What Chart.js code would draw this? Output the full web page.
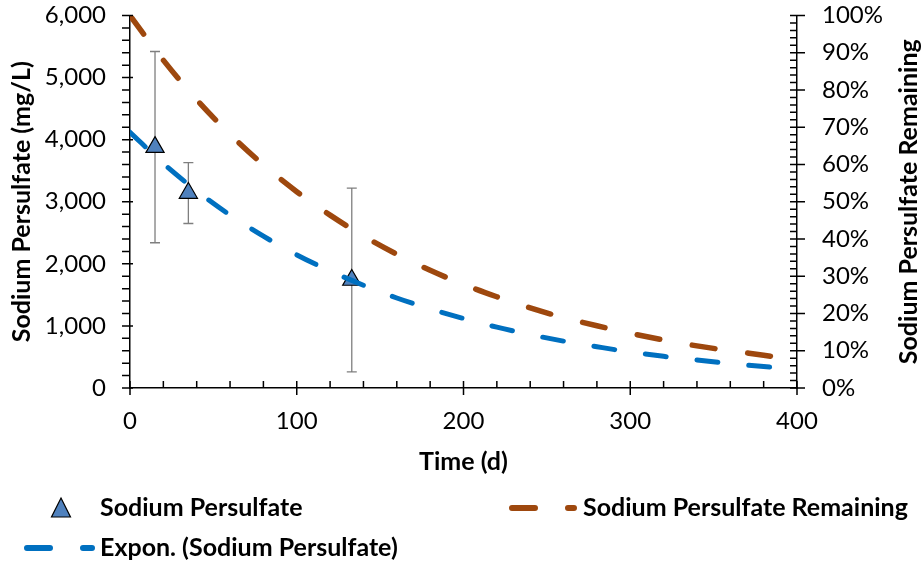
<!DOCTYPE html>
<html>
<head>
<meta charset="utf-8">
<title>Sodium Persulfate</title>
<script src="https://cdn.jsdelivr.net/npm/chart.js@4.4.1/dist/chart.umd.min.js"></script>
<style>
  html, body { margin: 0; padding: 0; background: #fff; }
  #wrap { width: 923px; height: 563px; }
</style>
</head>
<body>
<div id="wrap"><canvas id="chart" width="923" height="563"></canvas></div>
<script>
// measured samples (days, mg/L) and their error bars
const sampleDays = [15, 35, 133];
const sampleConc = [3880, 3140, 1740];
const sampleErr = [1540, 490, 1480];

// exponential trendline
const trendDays = [0, 20, 40, 60, 80, 100, 120, 140, 160, 180, 200, 220, 240, 260, 280, 300, 320, 340, 360, 380, 400];
const trendConc = [4120, 3615, 3175, 2785, 2445, 2145, 1885, 1655, 1450, 1275, 1120, 980, 860, 755, 665, 580, 510, 450, 395, 345, 305];

// percent remaining (right axis)
const remainDays = [0, 20, 40, 60, 80, 100, 120, 140, 160, 180, 200, 220, 240, 260, 280, 300, 320, 340, 360, 380, 388];
const remainPct = [100, 88, 77.4, 68.1, 59.9, 52.7, 46.4, 40.8, 35.9, 31.6, 27.8, 24.5, 21.5, 18.9, 16.7, 14.7, 12.9, 11.3, 10.0, 8.8, 8.3];

const tickFont = { family: 'Lato', size: 24 };
const titleFont = { family: 'Lato', size: 25, weight: 'bold' };

// no extra room for the tick labels that hang over the plot edges
function noOverhang(s) {
    s.paddingTop = 0; s.paddingBottom = 0;
    s.paddingLeft = 0; s.paddingRight = 0;
}

// error bars for the sample points
const errorBars = {
    id: 'errorBars',
    beforeDatasetsDraw(chart) {
        const { ctx, scales: { x, y } } = chart;
        ctx.save();
        ctx.strokeStyle = '#7f7f7f';
        ctx.lineWidth = 1.3;
        ctx.beginPath();
        for (let i = 0; i < sampleDays.length; i++) {
            const px = x.getPixelForValue(sampleDays[i]);
            const top = y.getPixelForValue(sampleConc[i] + sampleErr[i]);
            const bot = y.getPixelForValue(sampleConc[i] - sampleErr[i]);
            ctx.moveTo(px, top); ctx.lineTo(px, bot);
            ctx.moveTo(px - 5, top); ctx.lineTo(px + 5, top);
            ctx.moveTo(px - 5, bot); ctx.lineTo(px + 5, bot);
        }
        ctx.stroke();
        ctx.restore();
    }
};

// major + minor tick marks, right title, legend
const decorations = {
    id: 'decorations',
    afterDraw(chart) {
        const { ctx, chartArea: ca, scales: { x, y, y1 } } = chart;
        ctx.save();
        ctx.strokeStyle = '#000';
        ctx.lineWidth = 1.5;
        ctx.beginPath();
        for (let v = 0; v <= 6000; v += 200) {
            const p = y.getPixelForValue(v);
            const major = v % 1000 === 0;
            ctx.moveTo(ca.left - 8, p); ctx.lineTo(ca.left + (major ? 3 : 0), p);
        }
        for (let v = 0; v <= 100; v += 2) {
            const p = y1.getPixelForValue(v);
            const major = v % 10 === 0;
            ctx.moveTo(ca.right - 7, p); ctx.lineTo(ca.right + (major ? 8 : 0), p);
        }
        for (let v = 0; v <= 400; v += 20) {
            const p = x.getPixelForValue(v);
            const major = v % 100 === 0;
            ctx.moveTo(p, ca.bottom - 7); ctx.lineTo(p, ca.bottom + (major ? 7 : 0));
        }
        ctx.stroke();

        // right axis title, reads bottom to top
        ctx.fillStyle = '#000';
        ctx.font = 'bold 25px Lato';
        ctx.textAlign = 'center';
        ctx.textBaseline = 'middle';
        ctx.save();
        ctx.translate(909, (ca.top + ca.bottom) / 2);
        ctx.rotate(-Math.PI / 2);
        ctx.fillText('Sodium Persulfate Remaining', 0, 0);
        ctx.restore();

        // legend
        ctx.textAlign = 'left';
        ctx.beginPath();
        ctx.moveTo(61, 498); ctx.lineTo(70.5, 517); ctx.lineTo(51.5, 517); ctx.closePath();
        ctx.fillStyle = '#4f81bd';
        ctx.fill();
        ctx.lineWidth = 1.2;
        ctx.stroke();
        ctx.fillStyle = '#000';
        ctx.fillText('Sodium Persulfate', 100, 508);

        ctx.lineCap = 'round';
        ctx.lineWidth = 6;
        ctx.setLineDash([23, 33]);
        ctx.strokeStyle = '#9e480e';
        ctx.beginPath(); ctx.moveTo(512, 508); ctx.lineTo(574, 508); ctx.stroke();
        ctx.strokeStyle = '#0070c0';
        ctx.beginPath(); ctx.moveTo(27, 548); ctx.lineTo(92, 548); ctx.stroke();
        ctx.setLineDash([]);
        ctx.fillText('Sodium Persulfate Remaining', 583, 508);
        ctx.fillText('Expon. (Sodium Persulfate)', 100, 548);
        ctx.restore();
    }
};

new Chart(document.getElementById('chart'), {
    type: 'scatter',
    data: {
        datasets: [
            {
                type: 'line',
                label: 'Expon. (Sodium Persulfate)',
                data: trendDays.map((d, i) => ({ x: d, y: trendConc[i] })),
                borderColor: '#0070c0',
                borderWidth: 5,
                borderDash: [21, 31],
                borderCapStyle: 'round',
                cubicInterpolationMode: 'monotone',
                pointRadius: 0,
                yAxisID: 'y'
            },
            {
                label: 'Sodium Persulfate',
                data: sampleDays.map((d, i) => ({ x: d, y: sampleConc[i] })),
                pointStyle: 'triangle',
                pointRadius: 10.5,
                backgroundColor: '#4f81bd',
                borderColor: '#000',
                borderWidth: 1.2,
                yAxisID: 'y'
            },
            {
                type: 'line',
                label: 'Sodium Persulfate Remaining',
                data: remainDays.map((d, i) => ({ x: d, y: remainPct[i] })),
                borderColor: '#9e480e',
                borderWidth: 5.5,
                borderDash: [23, 33],
                borderCapStyle: 'round',
                cubicInterpolationMode: 'monotone',
                pointRadius: 0,
                yAxisID: 'y1'
            }
        ]
    },
    options: {
        responsive: false,
        animation: false,
        layout: { padding: { top: 15.5, left: 0, right: 0, bottom: 85 } },
        plugins: {
            legend: { display: false },
            tooltip: { enabled: false }
        },
        scales: {
            x: {
                type: 'linear',
                min: 0,
                max: 400,
                afterFit: (s) => { s.height = 90; noOverhang(s); },
                ticks: { stepSize: 100, padding: 19, color: '#000', font: tickFont },
                grid: { drawOnChartArea: false, drawTicks: false },
                border: { color: '#000', width: 1.5 },
                title: { display: true, text: 'Time (d)', color: '#000', font: titleFont, padding: { top: 0, bottom: 1 } }
            },
            y: {
                position: 'left',
                min: 0,
                max: 6000,
                afterFit: (s) => { s.width = 130; noOverhang(s); },
                ticks: {
                    stepSize: 1000,
                    padding: 24,
                    color: '#000',
                    font: tickFont,
                    callback: (v) => v.toLocaleString('en-US')
                },
                grid: { drawOnChartArea: false, drawTicks: false },
                border: { color: '#000', width: 1.5 },
                title: { display: true, text: 'Sodium Persulfate (mg/L)', color: '#000', font: titleFont, padding: { top: 7, bottom: 0 } }
            },
            y1: {
                position: 'right',
                min: 0,
                max: 100,
                afterFit: (s) => { s.width = 126; noOverhang(s); },
                ticks: {
                    stepSize: 10,
                    padding: 25,
                    color: '#000',
                    font: tickFont,
                    callback: (v) => v + '%'
                },
                grid: { drawOnChartArea: false, drawTicks: false },
                border: { color: '#000', width: 1.5 }
            }
        }
    },
    plugins: [errorBars, decorations]
});
</script>
</body>
</html>
